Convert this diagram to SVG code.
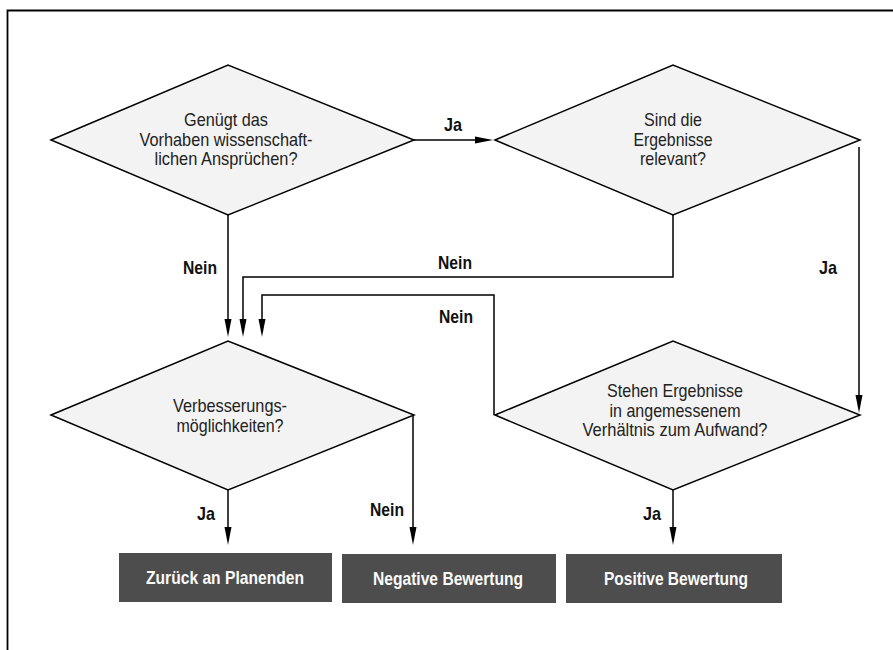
<svg xmlns="http://www.w3.org/2000/svg" width="893" height="650" viewBox="0 0 893 650">
<style>
.dia{fill:#f3f3f3;stroke:#000;stroke-width:1.5;stroke-linejoin:miter}
.dt{font-family:"Liberation Sans",Arial,sans-serif;font-size:18.5px;fill:#222;text-anchor:middle}
.lbl{font-family:"Liberation Sans",Arial,sans-serif;font-size:18.5px;font-weight:bold;fill:#111;text-anchor:middle}
.box{fill:#4d4d4d}
.bt{font-family:"Liberation Sans",Arial,sans-serif;font-size:19px;font-weight:bold;fill:#fafafa;text-anchor:middle}
.ln{fill:none;stroke:#000;stroke-width:1.5}
.ah{fill:#000}
</style>
<rect width="893" height="650" fill="#fff"/>
<path d="M7.5,650 V10.5 H893" fill="none" stroke="#000" stroke-width="1.8"/>
<g id="connectors">
<path class="ln" d="M414,140 H478"/>
<path class="ah" d="M475,136.5 L493,140 L475,143.5 Z"/>
<path class="ln" d="M228,215 V322"/>
<path class="ah" d="M224.5,319 L228,337 L231.5,319 Z"/>
<path class="ln" d="M673,215 V277 H243 V322"/>
<path class="ah" d="M239.5,319 L243,337 L246.5,319 Z"/>
<path class="ln" d="M494,415 V295 H262 V322"/>
<path class="ah" d="M258.5,319 L262,337 L265.5,319 Z"/>
<path class="ln" d="M859,147 V398"/>
<path class="ah" d="M855.5,395 L859,413 L862.5,395 Z"/>
<path class="ln" d="M413,415 V530"/>
<path class="ah" d="M409.5,527 L413,545 L416.5,527 Z"/>
<path class="ln" d="M228,490 V530"/>
<path class="ah" d="M224.5,527 L228,545 L231.5,527 Z"/>
<path class="ln" d="M673,490 V530"/>
<path class="ah" d="M669.5,527 L673,545 L676.5,527 Z"/>
<text class="lbl" x="453" y="131" textLength="18" lengthAdjust="spacingAndGlyphs">Ja</text>
<text class="lbl" x="200" y="274" textLength="34" lengthAdjust="spacingAndGlyphs">Nein</text>
<text class="lbl" x="455" y="269" textLength="34" lengthAdjust="spacingAndGlyphs">Nein</text>
<text class="lbl" x="456" y="323" textLength="34" lengthAdjust="spacingAndGlyphs">Nein</text>
<text class="lbl" x="828" y="274" textLength="18" lengthAdjust="spacingAndGlyphs">Ja</text>
<text class="lbl" x="387" y="516" textLength="34" lengthAdjust="spacingAndGlyphs">Nein</text>
<text class="lbl" x="206" y="520" textLength="18" lengthAdjust="spacingAndGlyphs">Ja</text>
<text class="lbl" x="652" y="520" textLength="18" lengthAdjust="spacingAndGlyphs">Ja</text>
</g>
<g id="d1">
<polygon class="dia" points="51,140 228,65 414,140 228,215"/>
<text class="dt" x="226" y="126" textLength="84" lengthAdjust="spacingAndGlyphs">Genügt das</text>
<text class="dt" x="226" y="145.5" textLength="173" lengthAdjust="spacingAndGlyphs">Vorhaben wissenschaft-</text>
<text class="dt" x="226" y="165" textLength="143" lengthAdjust="spacingAndGlyphs">lichen Ansprüchen?</text>
</g>
<g id="d2">
<polygon class="dia" points="495,140 673,65 860,140 673,215"/>
<text class="dt" x="673" y="126" textLength="58" lengthAdjust="spacingAndGlyphs">Sind die</text>
<text class="dt" x="673" y="145.5" textLength="79" lengthAdjust="spacingAndGlyphs">Ergebnisse</text>
<text class="dt" x="673" y="165" textLength="66" lengthAdjust="spacingAndGlyphs">relevant?</text>
</g>
<g id="d3">
<polygon class="dia" points="51,415 228,341 414,415 228,490"/>
<text class="dt" x="230" y="412" textLength="114" lengthAdjust="spacingAndGlyphs">Verbesserungs-</text>
<text class="dt" x="230" y="432" textLength="107" lengthAdjust="spacingAndGlyphs">möglichkeiten?</text>
</g>
<g id="d4">
<polygon class="dia" points="495,415 673,341 860,415 673,490"/>
<text class="dt" x="675" y="397" textLength="136" lengthAdjust="spacingAndGlyphs">Stehen Ergebnisse</text>
<text class="dt" x="675" y="416.5" textLength="131" lengthAdjust="spacingAndGlyphs">in angemessenem</text>
<text class="dt" x="675" y="436" textLength="185" lengthAdjust="spacingAndGlyphs">Verhältnis zum Aufwand?</text>
</g>
<g id="b1">
<rect class="box" x="119" y="553" width="213" height="49"/>
<text class="bt" x="225" y="584" textLength="158" lengthAdjust="spacingAndGlyphs">Zurück an Planenden</text>
</g>
<g id="b2">
<rect class="box" x="342" y="554" width="214" height="49"/>
<text class="bt" x="448" y="585" textLength="150" lengthAdjust="spacingAndGlyphs">Negative Bewertung</text>
</g>
<g id="b3">
<rect class="box" x="566" y="554" width="216" height="49"/>
<text class="bt" x="676" y="585" textLength="144" lengthAdjust="spacingAndGlyphs">Positive Bewertung</text>
</g>
</svg>
